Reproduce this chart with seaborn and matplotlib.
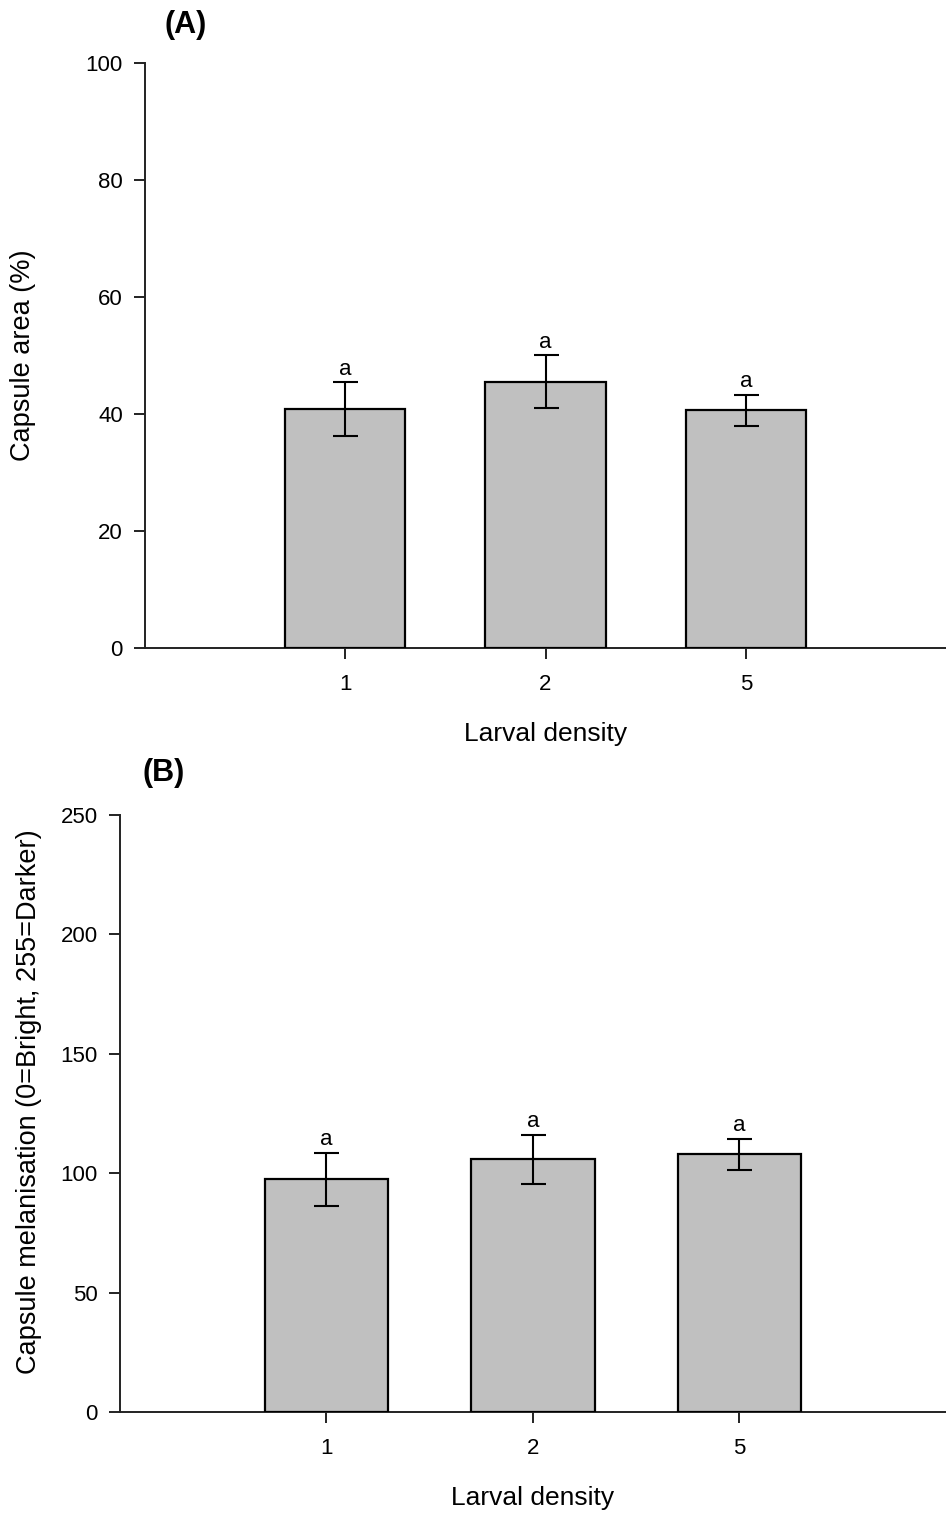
import pandas as pd
import matplotlib
matplotlib.use('Agg')
import matplotlib.pyplot as plt
import seaborn as sns

# values
density = ['1', '2', '5']
area_mean = [40.8, 45.5, 40.6]
area_err = [4.6, 4.5, 2.6]
mel_mean = [97.4, 105.8, 107.9]
mel_err = [11.0, 10.4, 6.4]
letters = ['a', 'a', 'a']

sns.set_style('ticks')
plt.rcParams['font.family'] = ['Liberation Sans', 'DejaVu Sans']
plt.rcParams['text.color'] = 'black'
plt.rcParams['axes.labelcolor'] = 'black'
plt.rcParams['xtick.color'] = '#222222'
plt.rcParams['ytick.color'] = '#222222'
plt.rcParams['xtick.labelcolor'] = 'black'
plt.rcParams['ytick.labelcolor'] = 'black'

fig = plt.figure(figsize=(9.46, 15.15), dpi=100)
axA = fig.add_axes([0.1533, 0.5723, 0.8467, 0.3861])
axB = fig.add_axes([0.1268, 0.068, 0.8732, 0.394])


def panel(ax, mean, err, ylim, yticks, ylabel, lab_xy):
    df = pd.DataFrame({'density': density, 'value': mean})
    sns.barplot(x='density', y='value', data=df, order=density, color='#c0c0c0',
                saturation=1, width=0.6, edgecolor='black', linewidth=1.6,
                errorbar=None, ax=ax)
    xs = [p.get_x() + p.get_width() / 2 for p in ax.patches]
    ax.errorbar(xs, mean, yerr=err, fmt='none', ecolor='black', elinewidth=1.5,
                capsize=9, capthick=1.5, zorder=5)
    for x, m, e, t in zip(xs, mean, err, letters):
        ax.annotate(t, (x, m + e), xytext=(0, 2), textcoords='offset points',
                    ha='center', va='bottom', fontsize=16)
    ax.set_xlim(-1, 3)
    ax.set_ylim(*ylim)
    ax.set_yticks(yticks)
    ax.set_xlabel('Larval density', fontsize=19, labelpad=19)
    ax.set_ylabel(ylabel, fontsize=19.5)
    ax.yaxis.set_label_coords(*lab_xy)
    ax.tick_params(axis='both', labelsize=16, length=8, width=1.4, pad=8)
    ax.tick_params(axis='x', pad=11)
    sns.despine(ax=ax)
    for s in ['left', 'bottom']:
        ax.spines[s].set_linewidth(1.4)
        ax.spines[s].set_color('#222222')
    ax.spines['bottom'].set_zorder(0)


panel(axA, area_mean, area_err, (0, 100), [0, 20, 40, 60, 80, 100],
      'Capsule area (%)', (-0.136, 0.5))
panel(axB, mel_mean, mel_err, (0, 250), [0, 50, 100, 150, 200, 250],
      'Capsule melanisation (0=Bright, 255=Darker)', (-0.094, 0.52))

fig.text(186 / 946, 1 - 25 / 1515, '(A)', fontsize=22, fontweight='bold', ha='center', va='center')
fig.text(164 / 946, 1 - 773 / 1515, '(B)', fontsize=22, fontweight='bold', ha='center', va='center')

fig.savefig('out.png', dpi=100)
